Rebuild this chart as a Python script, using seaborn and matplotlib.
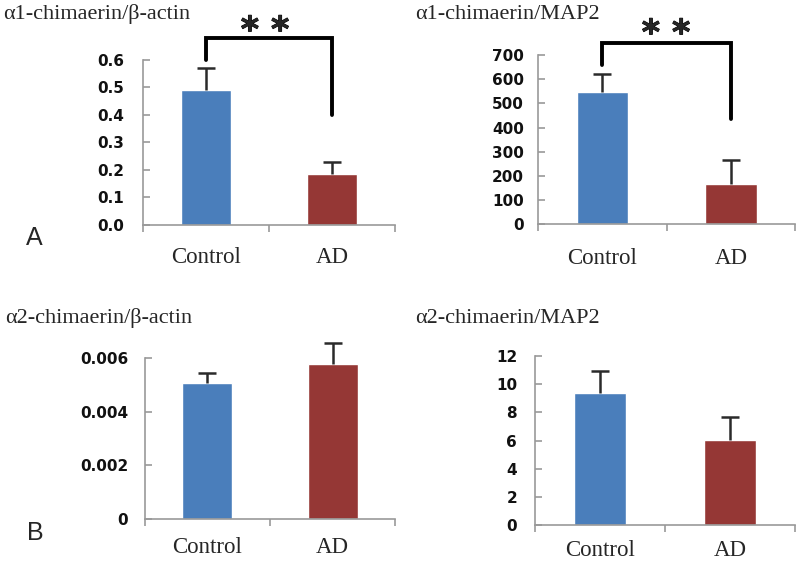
import numpy as np
import pandas as pd
import seaborn as sns
import matplotlib.pyplot as plt
import matplotlib.patheffects as pe

# ---- data ----
groups = ["Control", "AD"]

a1_actin_mean = [0.49, 0.185]
a1_actin_err = [0.08, 0.042]

a1_map2_mean = [548, 168]
a1_map2_err = [72, 97]

a2_actin_mean = [0.00508, 0.00579]
a2_actin_err = [0.00037, 0.00077]

a2_map2_mean = [9.4, 6.05]
a2_map2_err = [1.55, 1.65]

titles = ["\u03b11-chimaerin/\u03b2-actin", "\u03b11-chimaerin/MAP2",
          "\u03b12-chimaerin/\u03b2-actin", "\u03b12-chimaerin/MAP2"]

ticks_a1_actin = [0.0, 0.1, 0.2, 0.3, 0.4, 0.5, 0.6]
ticks_a1_map2 = [0, 100, 200, 300, 400, 500, 600, 700]
ticks_a2_actin = [0, 0.002, 0.004, 0.006]
ticks_a2_map2 = [0, 2, 4, 6, 8, 10, 12]

labels_a1_actin = ["0.0", "0.1", "0.2", "0.3", "0.4", "0.5", "0.6"]
labels_a1_map2 = [str(t) for t in ticks_a1_map2]
labels_a2_actin = ["0", "0.002", "0.004", "0.006"]
labels_a2_map2 = [str(t) for t in ticks_a2_map2]

# bracket heights (data units): left foot, top, right foot
bracket_a1_actin = [0.60, 0.68, 0.40]
bracket_a1_map2 = [660, 750, 437]

bar_colors = ["#4a7ebb", "#953735"]

sns.set_style("white")
plt.rcParams["font.family"] = ["DejaVu Sans"]

fig = plt.figure(figsize=(8, 5.62), dpi=100)

# axes rectangles in figure fractions
rects = [
    [0.179, 0.600, 0.315, 0.294],
    [0.6725, 0.601, 0.3215, 0.301],
    [0.181, 0.0765, 0.313, 0.2865],
    [0.669, 0.0658, 0.325, 0.3007],
]
means = [a1_actin_mean, a1_map2_mean, a2_actin_mean, a2_map2_mean]
errs = [a1_actin_err, a1_map2_err, a2_actin_err, a2_map2_err]
yticks = [ticks_a1_actin, ticks_a1_map2, ticks_a2_actin, ticks_a2_map2]
ylabels = [labels_a1_actin, labels_a1_map2, labels_a2_actin, labels_a2_map2]
brackets = [bracket_a1_actin, bracket_a1_map2, None, None]
ypads = [14, 10, 12, 13]
xpads = [16, 17, 13, 11]

axes = []
for i in range(4):
    ax = fig.add_axes(rects[i])
    df = pd.DataFrame({"group": groups, "value": means[i]})
    sns.barplot(data=df, x="group", y="value", hue="group", palette=bar_colors,
                width=0.4, legend=False, ax=ax, saturation=1)

    # upper error bars only (Excel style)
    tops = np.array(means[i]) + np.array(errs[i])
    ax.vlines([0, 1], means[i], tops, color="#2a2a2a", lw=1.8, clip_on=False, zorder=3)
    ax.plot([0, 1], tops, ls="none", marker="_", markersize=13, mew=1.8,
            color="#2a2a2a", clip_on=False, zorder=3)

    ax.set_xlim(-0.5, 1.5)
    ax.set_ylim(yticks[i][0], yticks[i][-1])
    ax.set_yticks(yticks[i])
    ax.set_yticklabels(ylabels[i], fontsize=11, fontweight="bold", color="#111111")
    ax.set_xticks([0, 1])
    ax.set_xticklabels(groups, fontfamily="Liberation Serif", fontsize=16.5)
    ax.set_xticks([-0.5, 0.5, 1.5], minor=True)
    ax.tick_params(axis="x", which="major", length=0, pad=xpads[i])
    ax.tick_params(axis="x", which="minor", length=5, width=1.2, color="#999999",
                   direction="out", bottom=True)
    ax.tick_params(axis="y", which="major", length=5, width=1.2, color="#999999",
                   direction="in", left=True, pad=ypads[i])
    ax.set_xlabel("")
    ax.set_ylabel("")
    for s in ["top", "right"]:
        ax.spines[s].set_visible(False)
    for s in ["left", "bottom"]:
        ax.spines[s].set_color("#999999")
        ax.spines[s].set_linewidth(1.2)

    b = brackets[i]
    if b is not None:
        ax.plot([0, 0, 1, 1], [b[0], b[1], b[1], b[2]], color="black",
                lw=2.8, clip_on=False, solid_joinstyle="miter")
    axes.append(ax)

# significance stars
star_fx = [pe.withStroke(linewidth=0.7, foreground="black")]
fig.text(265 / 800, 1 - 41 / 562, "* *", ha="center", va="baseline",
         fontsize=25, fontweight="bold", path_effects=star_fx)
fig.text(666 / 800, 1 - 44 / 562, "* *", ha="center", va="baseline",
         fontsize=25, fontweight="bold", path_effects=star_fx)

# panel titles
fig.text(0.004, 0.966, titles[0], family="Liberation Serif", fontsize=16, va="baseline")
fig.text(0.519, 0.966, titles[1], family="Liberation Serif", fontsize=16, va="baseline")
fig.text(0.006, 0.425, titles[2], family="Liberation Serif", fontsize=16, va="baseline")
fig.text(0.519, 0.425, titles[3], family="Liberation Serif", fontsize=16, va="baseline")

# panel letters
fig.text(0.033, 0.564, "A", family="Liberation Sans", fontsize=18, va="baseline")
fig.text(0.034, 0.039, "B", family="Liberation Sans", fontsize=18, va="baseline")

fig.savefig("out.png", dpi=100)
